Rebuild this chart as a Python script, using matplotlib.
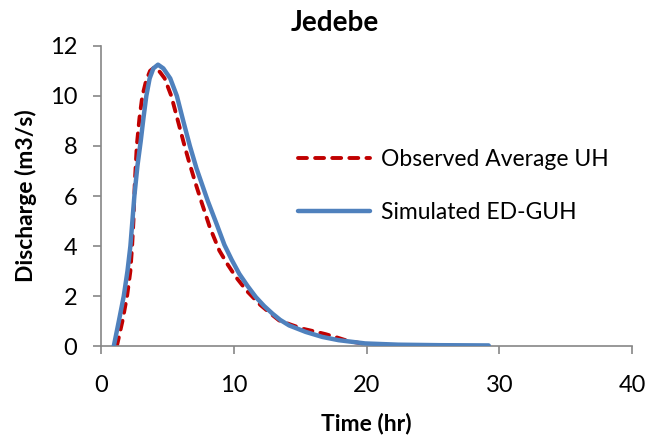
import matplotlib
matplotlib.use("Agg")
from matplotlib import pyplot as plt

plt.rcParams['font.family'] = ['Lato', 'DejaVu Sans']

# observed average unit hydrograph (red dashed)
obs_t = [1.2, 1.62, 1.97, 2.22, 2.35, 2.45, 2.55, 2.7, 2.9, 3.12, 3.4, 3.7, 4.05,
         4.45, 4.8, 5.3, 5.8, 6.3, 6.62, 7.1, 7.55, 8.2, 8.92, 9.5, 10.17, 11.0,
         12.0, 12.9, 13.42, 14.3, 15.17, 16.0, 16.92, 17.7, 18.42, 19.1, 19.67, 20.2]
obs_q = [0.0, 1.0, 2.0, 3.0, 4.0, 5.0, 6.5, 8.0, 9.1, 10.0, 10.6, 11.0, 11.15,
         10.95, 10.7, 10.0, 9.0, 8.0, 7.4, 6.55, 5.8, 4.75, 3.82, 3.3, 2.76, 2.2,
         1.65, 1.25, 1.03, 0.86, 0.7, 0.6, 0.48, 0.36, 0.24, 0.16, 0.11, 0.04]

# simulated ED-GUH (blue)
sim_t = [0.97, 1.35, 1.72, 2.0, 2.22, 2.37, 2.52, 2.75, 3.0, 3.2, 3.42, 3.67, 3.95,
         4.3, 4.7, 5.22, 5.72, 6.2, 6.7, 7.2, 8.05, 8.7, 9.3, 9.85, 10.42, 11.05,
         11.67, 12.3, 12.92, 13.5, 14.17, 15.42, 16.67, 17.9, 19.9, 22.4, 25.5, 29.2]
sim_q = [0.0, 1.0, 2.0, 3.0, 4.0, 5.0, 6.0, 7.2, 8.2, 9.1, 10.0, 10.7, 11.1,
         11.25, 11.1, 10.7, 10.0, 9.0, 8.0, 7.1, 5.8, 4.9, 4.05, 3.45, 2.89, 2.4,
         1.96, 1.6, 1.3, 1.05, 0.83, 0.57, 0.37, 0.24, 0.11, 0.06, 0.04, 0.03]

fig = plt.figure(figsize=(6.51, 4.41), dpi=100)
ax = fig.add_axes([0.155, 0.215, 0.816, 0.681])

ax.plot(obs_t, obs_q, color="#C00000", lw=2.8, dashes=(2.3, 2.1),
        dash_capstyle="round", label="Observed Average UH", zorder=2)
ax.plot(sim_t, sim_q, color="#4F81BD", lw=3.2, label="Simulated ED-GUH",
        solid_capstyle="round", solid_joinstyle="round", zorder=3)

ax.set_xlim(0, 40)
ax.set_ylim(0, 12)
ax.set_xticks(range(0, 41, 10))
ax.set_yticks(range(0, 13, 2))
for s in ["top", "right"]:
    ax.spines[s].set_visible(False)
for s in ["left", "bottom"]:
    ax.spines[s].set_color("#868686")
    ax.spines[s].set_linewidth(1.2)
ax.tick_params(direction="out", length=6, width=1.2, color="#868686",
               labelsize=17, labelcolor="black")
ax.tick_params(axis="x", pad=15)
ax.tick_params(axis="y", pad=11)

ax.set_xlabel("Time (hr)", fontsize=16.5, fontweight="bold", labelpad=12)
ax.set_ylabel("Discharge (m3/s)", fontsize=16.5, fontweight="bold", labelpad=9)
fig.text(0.515, 0.948, "Jedebe", fontsize=20, fontweight="bold",
         ha="center", va="center")

ax.legend(loc="upper left", bbox_to_anchor=(0.371, 0.657), frameon=False,
          borderpad=0, borderaxespad=0, fontsize=16.5, handlelength=3.14,
          handletextpad=0.48, labelspacing=1.42)

fig.savefig("out.png", dpi=100)
